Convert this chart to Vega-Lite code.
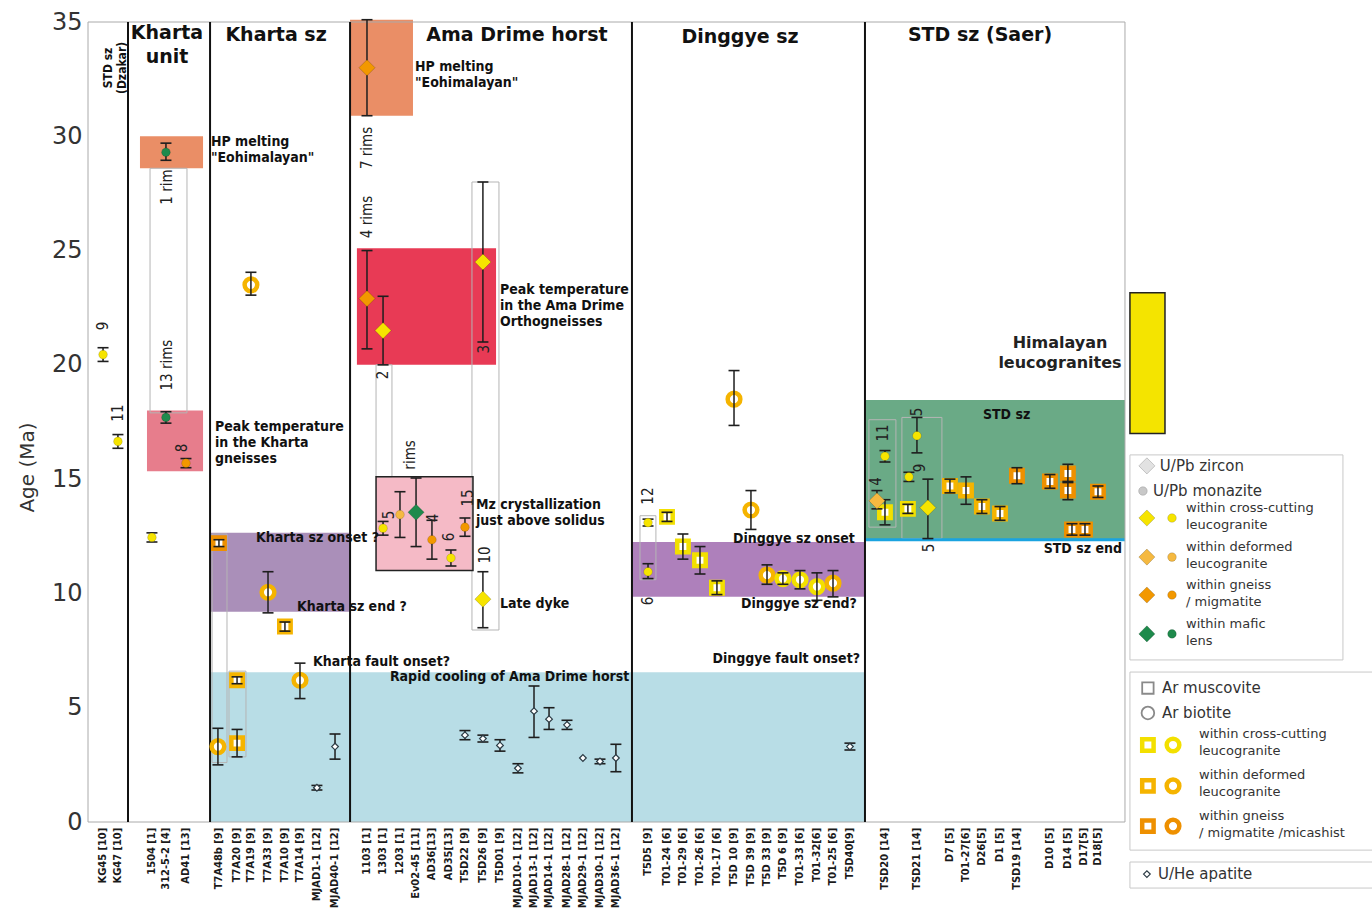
{
"$schema": "https://vega.github.io/schema/vega-lite/v6.json",
"width": 1284, "height": 800,
"autosize": {"type": "none"},
"padding": {"left": 88, "top": 22, "right": 0, "bottom": 89},
"background": "white",
"config": {"view": {"stroke": null},
 "axisX": {"disable": true},
 "axisY": {"ticks": false, "domain": false, "grid": false, "tickCount": 7,
   "labelFont": "DejaVu Sans", "labelFontSize": 24, "labelColor": "#333", "labelPadding": 6,
   "titleFont": "DejaVu Sans", "titleFontSize": 20, "titleFontWeight": "normal", "titleColor": "#333",
   "titleX": -61, "titleY": 445, "titleAlign": "center", "titleBaseline": "middle", "titleAngle": 270}},
"datasets": {
"bands": [
{"band":"hp","x1":3.56,"x2":7.88,"y1":28.6,"y2":30.0},
{"band":"peakK","x1":4.04,"x2":7.88,"y1":15.35,"y2":18.0},
{"band":"hp","x1":17.95,"x2":22.26,"y1":30.9,"y2":35.1},
{"band":"peakA","x1":18.42,"x2":27.95,"y1":20.0,"y2":25.1},
{"band":"mz","x1":19.73,"x2":26.37,"y1":11.0,"y2":15.1},
{"band":"szK","x1":8.36,"x2":17.95,"y1":9.2,"y2":12.65},
{"band":"cool","x1":8.36,"x2":53.22,"y1":0,"y2":6.55},
{"band":"szD","x1":37.26,"x2":53.22,"y1":9.85,"y2":12.25},
{"band":"std","x1":53.22,"x2":71.03,"y1":12.35,"y2":18.46},
{"band":"leuco","x1":71.37,"x2":73.77,"y1":17.0,"y2":23.15}
],
"groups": [
{"x1":4.25,"x2":6.78,"y1":17.9,"y2":28.6},
{"x1":8.5,"x2":9.52,"y1":2.6,"y2":12.6},
{"x1":9.66,"x2":10.82,"y1":2.85,"y2":6.6},
{"x1":19.73,"x2":20.82,"y1":15.1,"y2":20.0},
{"x1":26.3,"x2":28.15,"y1":8.4,"y2":28.0},
{"x1":37.81,"x2":38.9,"y1":10.6,"y2":13.4},
{"x1":53.49,"x2":55.34,"y1":12.9,"y2":17.6},
{"x1":55.75,"x2":58.49,"y1":12.4,"y2":17.7}
],
"frame": [{"x1":0,"x2":71.03,"y1":0,"y2":35}],
"stdline": [{"x1":53.22,"x2":71.03,"y":12.35}],
"divs": [{"pos":2.74},{"pos":8.36},{"pos":17.95},{"pos":37.26},{"pos":53.22}],
"legbox": [
{"x1":71.37,"x2":85.96,"y1":7.09,"y2":16.06},
{"x1":71.37,"x2":88.4,"y1":-1.23,"y2":6.56},
{"x1":71.37,"x2":88.4,"y1":-2.89,"y2":-1.75}
],
"pts": [
{"s":"KG45","pos":1.03,"age":20.45,"lo":20.15,"hi":20.75,"kind":"monazite","host":"cross"},
{"s":"KG47","pos":2.05,"age":16.65,"lo":16.35,"hi":16.95,"kind":"monazite","host":"cross"},
{"s":"1504","pos":4.38,"age":12.45,"lo":12.25,"hi":12.65,"kind":"monazite","host":"cross"},
{"s":"312-5-2","pos":5.34,"age":29.3,"lo":28.95,"hi":29.7,"kind":"monazite","host":"mafic"},
{"s":"312-5-2","pos":5.34,"age":17.7,"lo":17.45,"hi":17.95,"kind":"monazite","host":"mafic"},
{"s":"AD41","pos":6.71,"age":15.7,"lo":15.5,"hi":15.9,"kind":"monazite","host":"gneiss"},
{"s":"T7A48b","pos":8.97,"age":12.2,"lo":12.05,"hi":12.35,"kind":"muscovite","host":"gneiss"},
{"s":"T7A48b","pos":8.9,"age":3.3,"lo":2.5,"hi":4.1,"kind":"biotite","host":"deformed"},
{"s":"T7A20","pos":10.21,"age":6.2,"lo":6.05,"hi":6.35,"kind":"muscovite","host":"deformed"},
{"s":"T7A20","pos":10.21,"age":3.45,"lo":2.85,"hi":4.05,"kind":"muscovite","host":"deformed"},
{"s":"T7A19","pos":11.16,"age":23.5,"lo":23.05,"hi":24.05,"kind":"biotite","host":"deformed"},
{"s":"T7A33","pos":12.33,"age":10.05,"lo":9.15,"hi":10.95,"kind":"biotite","host":"deformed"},
{"s":"T7A10","pos":13.49,"age":8.55,"lo":8.35,"hi":8.75,"kind":"muscovite","host":"deformed"},
{"s":"T7A14","pos":14.52,"age":6.2,"lo":5.4,"hi":6.95,"kind":"biotite","host":"deformed"},
{"s":"MJAD1-1","pos":15.68,"age":1.5,"lo":1.4,"hi":1.6,"kind":"apatite","host":"none"},
{"s":"MJAD40-1","pos":16.92,"age":3.3,"lo":2.75,"hi":3.85,"kind":"apatite","host":"none"},
{"s":"1103","pos":19.11,"age":33.0,"lo":30.9,"hi":35.1,"kind":"zircon","host":"gneiss"},
{"s":"1103","pos":19.11,"age":22.9,"lo":20.7,"hi":25.0,"kind":"zircon","host":"gneiss"},
{"s":"1303","pos":20.21,"age":21.5,"lo":20.0,"hi":23.0,"kind":"zircon","host":"cross"},
{"s":"1303","pos":20.21,"age":12.85,"lo":12.55,"hi":13.15,"kind":"monazite","host":"cross"},
{"s":"1203","pos":21.37,"age":13.45,"lo":12.45,"hi":14.45,"kind":"monazite","host":"deformed"},
{"s":"Ev02-45","pos":22.47,"age":13.55,"lo":12.05,"hi":15.05,"kind":"zircon","host":"mafic"},
{"s":"AD36","pos":23.56,"age":12.35,"lo":11.5,"hi":13.2,"kind":"monazite","host":"gneiss"},
{"s":"AD35","pos":24.86,"age":11.55,"lo":11.2,"hi":11.9,"kind":"monazite","host":"cross"},
{"s":"T5D22","pos":25.82,"age":12.9,"lo":12.5,"hi":13.3,"kind":"monazite","host":"gneiss"},
{"s":"T5D22","pos":25.82,"age":3.8,"lo":3.6,"hi":4.0,"kind":"apatite","host":"none"},
{"s":"T5D26","pos":27.05,"age":24.5,"lo":21.0,"hi":28.0,"kind":"zircon","host":"cross"},
{"s":"T5D26","pos":27.05,"age":9.75,"lo":8.5,"hi":10.95,"kind":"zircon","host":"cross"},
{"s":"T5D26","pos":27.05,"age":3.65,"lo":3.5,"hi":3.8,"kind":"apatite","host":"none"},
{"s":"T5D01","pos":28.22,"age":3.35,"lo":3.1,"hi":3.6,"kind":"apatite","host":"none"},
{"s":"MJAD10-1","pos":29.45,"age":2.35,"lo":2.15,"hi":2.55,"kind":"apatite","host":"none"},
{"s":"MJAD13-1","pos":30.55,"age":4.85,"lo":3.7,"hi":5.95,"kind":"apatite","host":"none"},
{"s":"MJAD14-1","pos":31.58,"age":4.5,"lo":4.05,"hi":5.0,"kind":"apatite","host":"none"},
{"s":"MJAD28-1","pos":32.81,"age":4.25,"lo":4.05,"hi":4.45,"kind":"apatite","host":"none"},
{"s":"MJAD29-1","pos":33.9,"age":2.8,"lo":null,"hi":null,"kind":"apatite","host":"none"},
{"s":"MJAD30-1","pos":35.07,"age":2.65,"lo":2.55,"hi":2.75,"kind":"apatite","host":"none"},
{"s":"MJAD36-1","pos":36.16,"age":2.8,"lo":2.2,"hi":3.4,"kind":"apatite","host":"none"},
{"s":"T5D5","pos":38.36,"age":13.1,"lo":12.95,"hi":13.25,"kind":"monazite","host":"cross"},
{"s":"T5D5","pos":38.36,"age":10.95,"lo":10.65,"hi":11.3,"kind":"monazite","host":"cross"},
{"s":"T01-24","pos":39.66,"age":13.35,"lo":13.15,"hi":13.55,"kind":"muscovite","host":"cross"},
{"s":"T01-29","pos":40.75,"age":12.05,"lo":11.5,"hi":12.6,"kind":"muscovite","host":"cross"},
{"s":"T01-26","pos":41.92,"age":11.45,"lo":10.85,"hi":12.05,"kind":"muscovite","host":"cross"},
{"s":"T01-17","pos":43.08,"age":10.25,"lo":9.95,"hi":10.55,"kind":"muscovite","host":"cross"},
{"s":"T5D10","pos":44.25,"age":18.5,"lo":17.35,"hi":19.75,"kind":"biotite","host":"deformed"},
{"s":"T5D39","pos":45.41,"age":13.65,"lo":12.8,"hi":14.5,"kind":"biotite","host":"deformed"},
{"s":"T5D33","pos":46.51,"age":10.8,"lo":10.4,"hi":11.25,"kind":"biotite","host":"deformed"},
{"s":"T5D6","pos":47.6,"age":10.65,"lo":10.4,"hi":10.9,"kind":"biotite","host":"cross"},
{"s":"T01-33","pos":48.77,"age":10.6,"lo":10.2,"hi":11.0,"kind":"biotite","host":"cross"},
{"s":"T01-32","pos":49.93,"age":10.3,"lo":9.7,"hi":10.9,"kind":"biotite","host":"cross"},
{"s":"T01-25","pos":51.03,"age":10.45,"lo":9.85,"hi":11.0,"kind":"biotite","host":"deformed"},
{"s":"T5D40","pos":52.19,"age":3.3,"lo":3.15,"hi":3.45,"kind":"apatite","host":"none"},
{"s":"TSD20","pos":54.59,"age":16.0,"lo":15.75,"hi":16.25,"kind":"monazite","host":"cross"},
{"s":"TSD20","pos":54.04,"age":14.05,"lo":13.7,"hi":14.5,"kind":"zircon","host":"deformed"},
{"s":"TSD20","pos":54.59,"age":13.55,"lo":13.0,"hi":14.1,"kind":"muscovite","host":"cross"},
{"s":"TSD21","pos":56.78,"age":16.9,"lo":16.15,"hi":17.7,"kind":"monazite","host":"cross"},
{"s":"TSD21","pos":56.23,"age":15.1,"lo":14.9,"hi":15.3,"kind":"monazite","host":"cross"},
{"s":"TSD21","pos":56.16,"age":13.7,"lo":13.5,"hi":13.9,"kind":"muscovite","host":"cross"},
{"s":"TSD21","pos":57.53,"age":13.75,"lo":12.4,"hi":15.0,"kind":"zircon","host":"cross"},
{"s":"D7","pos":59.04,"age":14.7,"lo":14.4,"hi":15.0,"kind":"muscovite","host":"deformed"},
{"s":"T01-27","pos":60.14,"age":14.5,"lo":13.9,"hi":15.1,"kind":"muscovite","host":"deformed"},
{"s":"D26","pos":61.23,"age":13.8,"lo":13.5,"hi":14.1,"kind":"muscovite","host":"deformed"},
{"s":"D1","pos":62.47,"age":13.5,"lo":13.2,"hi":13.8,"kind":"muscovite","host":"deformed"},
{"s":"TSD19","pos":63.63,"age":15.15,"lo":14.8,"hi":15.5,"kind":"muscovite","host":"gneiss"},
{"s":"D10","pos":65.89,"age":14.9,"lo":14.6,"hi":15.2,"kind":"muscovite","host":"gneiss"},
{"s":"D14","pos":67.12,"age":15.25,"lo":14.85,"hi":15.65,"kind":"muscovite","host":"gneiss"},
{"s":"D14","pos":67.12,"age":14.5,"lo":14.1,"hi":14.9,"kind":"muscovite","host":"gneiss"},
{"s":"D14","pos":67.4,"age":12.8,"lo":12.55,"hi":13.05,"kind":"muscovite","host":"gneiss"},
{"s":"D17","pos":68.29,"age":12.8,"lo":12.55,"hi":13.05,"kind":"muscovite","host":"gneiss"},
{"s":"D18","pos":69.18,"age":14.45,"lo":14.2,"hi":14.7,"kind":"muscovite","host":"gneiss"},
{"s":"legend","pos":72.53,"age":15.58,"lo":null,"hi":null,"kind":"zircon","host":"none"},
{"s":"legend","pos":72.26,"age":14.48,"lo":null,"hi":null,"kind":"monazite","host":"none"},
{"s":"legend","pos":72.53,"age":13.3,"lo":null,"hi":null,"kind":"zircon","host":"cross"},
{"s":"legend","pos":74.25,"age":13.3,"lo":null,"hi":null,"kind":"monazite","host":"cross"},
{"s":"legend","pos":72.53,"age":11.59,"lo":null,"hi":null,"kind":"zircon","host":"deformed"},
{"s":"legend","pos":74.25,"age":11.59,"lo":null,"hi":null,"kind":"monazite","host":"deformed"},
{"s":"legend","pos":72.53,"age":9.93,"lo":null,"hi":null,"kind":"zircon","host":"gneiss"},
{"s":"legend","pos":74.25,"age":9.93,"lo":null,"hi":null,"kind":"monazite","host":"gneiss"},
{"s":"legend","pos":72.53,"age":8.23,"lo":null,"hi":null,"kind":"zircon","host":"mafic"},
{"s":"legend","pos":74.25,"age":8.23,"lo":null,"hi":null,"kind":"monazite","host":"mafic"},
{"s":"legend","pos":72.6,"age":5.86,"lo":null,"hi":null,"kind":"muscovite","host":"none"},
{"s":"legend","pos":72.6,"age":4.77,"lo":null,"hi":null,"kind":"biotite","host":"none"},
{"s":"legend","pos":72.6,"age":3.37,"lo":null,"hi":null,"kind":"muscovite","host":"cross"},
{"s":"legend","pos":74.32,"age":3.37,"lo":null,"hi":null,"kind":"biotite","host":"cross"},
{"s":"legend","pos":72.6,"age":1.58,"lo":null,"hi":null,"kind":"muscovite","host":"deformed"},
{"s":"legend","pos":74.32,"age":1.58,"lo":null,"hi":null,"kind":"biotite","host":"deformed"},
{"s":"legend","pos":72.6,"age":-0.18,"lo":null,"hi":null,"kind":"muscovite","host":"gneiss"},
{"s":"legend","pos":74.32,"age":-0.18,"lo":null,"hi":null,"kind":"biotite","host":"gneiss"},
{"s":"legend","pos":72.53,"age":-2.28,"lo":null,"hi":null,"kind":"apatite","host":"none"}
],
"samples": [
{"label":"KG45 [10]","pos":1.03},{"label":"KG47 [10]","pos":2.05},
{"label":"1504 [1]","pos":4.38},{"label":"312-5-2 [4]","pos":5.34},{"label":"AD41 [13]","pos":6.71},
{"label":"T7A48b [9]","pos":8.97},{"label":"T7A20 [9]","pos":10.21},{"label":"T7A19 [9]","pos":11.16},{"label":"T7A33 [9]","pos":12.33},{"label":"T7A10 [9]","pos":13.49},{"label":"T7A14 [9]","pos":14.52},{"label":"MJAD1-1 [12]","pos":15.68},{"label":"MJAD40-1 [12]","pos":16.92},
{"label":"1103 [1]","pos":19.11},{"label":"1303 [1]","pos":20.21},{"label":"1203 [1]","pos":21.37},{"label":"Ev02-45 [11]","pos":22.47},{"label":"AD36[13]","pos":23.56},{"label":"AD35[13]","pos":24.75},{"label":"T5D22 [9]","pos":25.82},{"label":"T5D26 [9]","pos":27.05},{"label":"T5D01 [9]","pos":28.22},{"label":"MJAD10-1 [12]","pos":29.45},{"label":"MJAD13-1 [12]","pos":30.55},{"label":"MJAD14-1 [12]","pos":31.58},{"label":"MJAD28-1 [12]","pos":32.81},{"label":"MJAD29-1 [12]","pos":33.9},{"label":"MJAD30-1 [12]","pos":35.07},{"label":"MJAD36-1 [12]","pos":36.16},
{"label":"T5D5 [9]","pos":38.36},{"label":"T01-24 [6]","pos":39.66},{"label":"T01-29 [6]","pos":40.75},{"label":"T01-26 [6]","pos":41.92},{"label":"T01-17 [6]","pos":43.08},{"label":"T5D 10 [9]","pos":44.25},{"label":"T5D 39 [9]","pos":45.41},{"label":"T5D 33 [9]","pos":46.51},{"label":"T5D 6 [9]","pos":47.6},{"label":"T01-33 [6]","pos":48.77},{"label":"T01-32[6]","pos":49.93},{"label":"T01-25 [6]","pos":51.03},{"label":"T5D40[9]","pos":52.19},
{"label":"TSD20 [14]","pos":54.59},{"label":"TSD21 [14]","pos":56.78},{"label":"D7 [5]","pos":59.04},{"label":"T01-27[6]","pos":60.14},{"label":"D26[5]","pos":61.23},{"label":"D1 [5]","pos":62.47},{"label":"TSD19 [14]","pos":63.63},{"label":"D10 [5]","pos":65.89},{"label":"D14 [5]","pos":67.12},{"label":"D17[5]","pos":68.22},{"label":"D18[5]","pos":69.18}
],
"notesL": [
{"t":"HP melting\n\"Eohimalayan\"","pos":8.42,"age":30.06},
{"t":"Peak temperature\nin the Kharta\ngneisses","pos":8.7,"age":17.59},
{"t":"Kharta sz onset ?","pos":11.51,"age":12.73},
{"t":"Kharta sz end ?","pos":14.32,"age":9.71},
{"t":"Kharta fault onset?","pos":15.41,"age":7.31},
{"t":"Rapid cooling of Ama Drime horst","pos":20.68,"age":6.65},
{"t":"HP melting\n\"Eohimalayan\"","pos":22.4,"age":33.34},
{"t":"Peak temperature\nin the Ama Drime\nOrthogneisses","pos":28.22,"age":23.58},
{"t":"Mz crystallization\njust above solidus","pos":26.58,"age":14.18},
{"t":"Late dyke","pos":28.22,"age":9.84},
{"t":"STD sz","pos":61.3,"age":18.11}
],
"notesR": [
{"t":"Dinggye sz onset","pos":52.53,"age":12.69},
{"t":"Dinggye sz end?","pos":52.67,"age":9.84},
{"t":"Dinggye fault onset?","pos":52.88,"age":7.44},
{"t":"STD sz end","pos":70.82,"age":12.25}
],
"heads": [
{"t":"Kharta\nunit","pos":5.41,"age":34.91},
{"t":"Kharta sz","pos":12.88,"age":34.83},
{"t":"Ama Drime horst","pos":29.38,"age":34.83},
{"t":"Dinggye sz","pos":44.66,"age":34.74},
{"t":"STD sz (Saer)","pos":61.1,"age":34.83}
],
"heads2": [{"t":"Himalayan\nleucogranites","pos":66.58,"age":21.3}],
"counts": [
{"t":"9","pos":1.03,"age":21.7},{"t":"11","pos":2.05,"age":17.89},
{"t":"1 rim","pos":5.41,"age":27.78},{"t":"13 rims","pos":5.41,"age":19.99},{"t":"8","pos":6.44,"age":16.36},
{"t":"7 rims","pos":19.11,"age":29.49},{"t":"4 rims","pos":19.11,"age":26.47},{"t":"2","pos":20.21,"age":19.56},{"t":"3","pos":27.12,"age":20.69},{"t":"rims","pos":22.05,"age":16.06},
{"t":"5","pos":20.62,"age":13.43},{"t":"4","pos":23.63,"age":13.3},{"t":"6","pos":24.73,"age":12.47},{"t":"15","pos":26.03,"age":14.18},{"t":"10","pos":27.19,"age":11.68},
{"t":"12","pos":38.36,"age":14.26},{"t":"6","pos":38.36,"age":9.67},
{"t":"11","pos":54.45,"age":17.02},{"t":"4","pos":54.0,"age":14.9},{"t":"5","pos":56.78,"age":17.94},{"t":"9","pos":56.99,"age":15.49},{"t":"5","pos":57.6,"age":11.99}
],
"vlabels": [{"t":"STD sz\n(Dzakar)","pos":1.37,"age":32.99}],
"legL": [
{"t":"U/Pb zircon","pos":73.42,"age":15.58},{"t":"U/Pb monazite","pos":72.95,"age":14.48},
{"t":"Ar muscovite","pos":73.56,"age":5.86},{"t":"Ar biotite","pos":73.56,"age":4.77},
{"t":"U/He apatite","pos":73.29,"age":-2.28}
],
"legS": [
{"t":"within cross-cutting\nleucogranite","pos":75.21,"age":14.0},
{"t":"within deformed\nleucogranite","pos":75.21,"age":12.29},
{"t":"within gneiss\n/ migmatite","pos":75.21,"age":10.63},
{"t":"within mafic\nlens","pos":75.21,"age":8.93},
{"t":"within cross-cutting\nleucogranite","pos":76.1,"age":4.11},
{"t":"within deformed\nleucogranite","pos":76.1,"age":2.32},
{"t":"within gneiss\n/ migmatite /micashist","pos":76.1,"age":0.53}
]
},
"layer": [
{"data":{"name":"bands"},"mark":{"type":"rect"},
 "encoding":{
  "x":{"field":"x1","type":"quantitative","scale":{"domain":[0,87.95],"nice":false,"zero":false}},
  "x2":{"field":"x2"},
  "y":{"field":"y1","type":"quantitative","title":"Age (Ma)","scale":{"domain":[0,35],"nice":false,"zero":false}},
  "y2":{"field":"y2"},
  "fill":{"field":"band","type":"nominal","legend":null,
          "scale":{"domain":["hp","peakK","peakA","mz","szK","cool","szD","std","leuco"],
                   "range":["#ea8e66","#e77d8c","#e83a55","#f5bac6","#aa8fb9","#b8dde6","#ae80bb","#6aaa86","#f4e400"]}}}},
{"data":{"name":"groups"},"mark":{"type":"rect","fill":null,"stroke":"#b5b5b5","strokeWidth":1},
 "encoding":{"x":{"field":"x1","type":"quantitative"},"x2":{"field":"x2"},"y":{"field":"y1","type":"quantitative","title":"Age (Ma)"},"y2":{"field":"y2"}}},
{"data":{"name":"bands"},"transform":[{"filter":"datum.band==='mz' || datum.band==='leuco'"}],
 "mark":{"type":"rect","fill":null,"stroke":"#222","strokeWidth":1.5},
 "encoding":{"x":{"field":"x1","type":"quantitative"},"x2":{"field":"x2"},"y":{"field":"y1","type":"quantitative","title":"Age (Ma)"},"y2":{"field":"y2"}}},
{"data":{"name":"stdline"},"mark":{"type":"rule","stroke":"#1aa3e0","strokeWidth":3},
 "encoding":{"x":{"field":"x1","type":"quantitative"},"x2":{"field":"x2"},"y":{"field":"y","type":"quantitative","title":"Age (Ma)"}}},
{"data":{"name":"frame"},"mark":{"type":"rect","fill":null,"stroke":"#aaaaaa","strokeWidth":1},
 "encoding":{"x":{"field":"x1","type":"quantitative"},"x2":{"field":"x2"},"y":{"field":"y1","type":"quantitative","title":"Age (Ma)"},"y2":{"field":"y2"}}},
{"data":{"name":"divs"},"mark":{"type":"rule","stroke":"#111","strokeWidth":2},
 "encoding":{"x":{"field":"pos","type":"quantitative"}}},
{"data":{"name":"legbox"},"mark":{"type":"rect","fill":"white","stroke":"#c8c8c8","strokeWidth":1},
 "encoding":{"x":{"field":"x1","type":"quantitative"},"x2":{"field":"x2"},"y":{"field":"y1","type":"quantitative","title":"Age (Ma)"},"y2":{"field":"y2"}}},
{"data":{"name":"pts"},"transform":[{"filter":"datum.kind==='muscovite'"}],
 "mark":{"type":"point","shape":"square","filled":false,"fill":"white","fillOpacity":1,"size":130,"opacity":1},
 "encoding":{"x":{"field":"pos","type":"quantitative"},"y":{"field":"age","type":"quantitative","title":"Age (Ma)"},
  "stroke":{"field":"host","type":"nominal","legend":null,"scale":{"domain":["cross","deformed","gneiss","mafic","none"],"range":["#f3e000","#f5b400","#ee9000","#1e8a4c","#8a8a8a"]}},
  "strokeWidth":{"condition":{"test":"datum.host==='none'","value":1.8},"value":4.5}}},
{"data":{"name":"pts"},"transform":[{"filter":"datum.kind==='biotite'"}],
 "mark":{"type":"point","shape":"circle","filled":false,"fill":"white","fillOpacity":1,"size":160,"opacity":1},
 "encoding":{"x":{"field":"pos","type":"quantitative"},"y":{"field":"age","type":"quantitative","title":"Age (Ma)"},
  "stroke":{"field":"host","type":"nominal","legend":null,"scale":{"domain":["cross","deformed","gneiss","mafic","none"],"range":["#f3e000","#f5b400","#ee9000","#1e8a4c","#8a8a8a"]}},
  "strokeWidth":{"condition":{"test":"datum.host==='none'","value":1.8},"value":4.5}}},
{"data":{"name":"pts"},"transform":[{"filter":"isValid(datum.lo)"}],
 "mark":{"type":"rule","stroke":"#1e1e1e","strokeWidth":1.5},
 "encoding":{"x":{"field":"pos","type":"quantitative"},"y":{"field":"lo","type":"quantitative","title":"Age (Ma)"},"y2":{"field":"hi"}}},
{"data":{"name":"pts"},"transform":[{"filter":"isValid(datum.lo)"}],
 "mark":{"type":"tick","orient":"horizontal","color":"#1e1e1e","size":11,"thickness":1.6,"opacity":1},
 "encoding":{"x":{"field":"pos","type":"quantitative"},"y":{"field":"lo","type":"quantitative","title":"Age (Ma)"}}},
{"data":{"name":"pts"},"transform":[{"filter":"isValid(datum.hi)"}],
 "mark":{"type":"tick","orient":"horizontal","color":"#1e1e1e","size":11,"thickness":1.6,"opacity":1},
 "encoding":{"x":{"field":"pos","type":"quantitative"},"y":{"field":"hi","type":"quantitative","title":"Age (Ma)"}}},
{"data":{"name":"pts"},"transform":[{"filter":"datum.kind==='zircon'"}],
 "mark":{"type":"point","shape":"diamond","filled":true,"size":260,"opacity":1,"stroke":"#000","strokeOpacity":0.18,"strokeWidth":1},
 "encoding":{"x":{"field":"pos","type":"quantitative"},"y":{"field":"age","type":"quantitative","title":"Age (Ma)"},
  "fill":{"field":"host","type":"nominal","legend":null,"scale":{"domain":["cross","deformed","gneiss","mafic","none"],"range":["#f6e400","#f5b940","#f29800","#1e8a4c","#e2e2e2"]}}}},
{"data":{"name":"pts"},"transform":[{"filter":"datum.kind==='monazite'"}],
 "mark":{"type":"point","shape":"circle","filled":true,"size":75,"opacity":1,"stroke":"#000","strokeOpacity":0.15,"strokeWidth":1},
 "encoding":{"x":{"field":"pos","type":"quantitative"},"y":{"field":"age","type":"quantitative","title":"Age (Ma)"},
  "fill":{"field":"host","type":"nominal","legend":null,"scale":{"domain":["cross","deformed","gneiss","mafic","none"],"range":["#f6e400","#f5b940","#f29800","#1e8a4c","#c8c8c8"]}}}},
{"data":{"name":"pts"},"transform":[{"filter":"datum.kind==='apatite'"}],
 "mark":{"type":"point","shape":"diamond","filled":false,"fill":"white","fillOpacity":1,"size":45,"stroke":"#2b3a44","strokeWidth":1.2,"opacity":1},
 "encoding":{"x":{"field":"pos","type":"quantitative"},"y":{"field":"age","type":"quantitative","title":"Age (Ma)"}}},
{"data":{"name":"notesL"},
 "mark":{"type":"text","align":"left","baseline":"top","font":"DejaVu Sans Condensed, sans-serif","fontSize":14,"fontWeight":"bold","lineBreak":"\n","lineHeight":16,"color":"#111"},
 "encoding":{"x":{"field":"pos","type":"quantitative"},"y":{"field":"age","type":"quantitative","title":"Age (Ma)"},"text":{"field":"t"}}},
{"data":{"name":"notesR"},
 "mark":{"type":"text","align":"right","baseline":"top","font":"DejaVu Sans Condensed, sans-serif","fontSize":14,"fontWeight":"bold","lineBreak":"\n","lineHeight":16,"color":"#111"},
 "encoding":{"x":{"field":"pos","type":"quantitative"},"y":{"field":"age","type":"quantitative","title":"Age (Ma)"},"text":{"field":"t"}}},
{"data":{"name":"heads"},
 "mark":{"type":"text","align":"center","baseline":"top","font":"DejaVu Sans","fontSize":19,"fontWeight":"bold","lineBreak":"\n","lineHeight":24,"color":"#111"},
 "encoding":{"x":{"field":"pos","type":"quantitative"},"y":{"field":"age","type":"quantitative","title":"Age (Ma)"},"text":{"field":"t"}}},
{"data":{"name":"heads2"},
 "mark":{"type":"text","align":"center","baseline":"top","font":"DejaVu Sans","fontSize":16,"fontWeight":"bold","lineBreak":"\n","lineHeight":20,"color":"#222"},
 "encoding":{"x":{"field":"pos","type":"quantitative"},"y":{"field":"age","type":"quantitative","title":"Age (Ma)"},"text":{"field":"t"}}},
{"data":{"name":"counts"},
 "mark":{"type":"text","align":"center","baseline":"middle","angle":270,"font":"DejaVu Sans Condensed, sans-serif","fontSize":15,"color":"#222"},
 "encoding":{"x":{"field":"pos","type":"quantitative"},"y":{"field":"age","type":"quantitative","title":"Age (Ma)"},"text":{"field":"t"}}},
{"data":{"name":"vlabels"},
 "mark":{"type":"text","align":"center","baseline":"middle","angle":270,"font":"DejaVu Sans Condensed, sans-serif","fontSize":12,"fontWeight":"bold","lineBreak":"\n","lineHeight":14,"color":"#111"},
 "encoding":{"x":{"field":"pos","type":"quantitative"},"y":{"field":"age","type":"quantitative","title":"Age (Ma)"},"text":{"field":"t"}}},
{"data":{"name":"samples"},
 "mark":{"type":"text","align":"right","baseline":"middle","angle":270,"font":"DejaVu Sans Condensed, sans-serif","fontSize":11,"fontWeight":"bold","color":"#1a1a1a"},
 "encoding":{"x":{"field":"pos","type":"quantitative"},"y":{"datum":-0.25,"type":"quantitative","title":"Age (Ma)"},"text":{"field":"label"}}},
{"data":{"name":"legL"},
 "mark":{"type":"text","align":"left","baseline":"middle","font":"DejaVu Sans","fontSize":15,"color":"#333"},
 "encoding":{"x":{"field":"pos","type":"quantitative"},"y":{"field":"age","type":"quantitative","title":"Age (Ma)"},"text":{"field":"t"}}},
{"data":{"name":"legS"},
 "mark":{"type":"text","align":"left","baseline":"top","font":"DejaVu Sans","fontSize":13,"lineBreak":"\n","lineHeight":17,"color":"#333"},
 "encoding":{"x":{"field":"pos","type":"quantitative"},"y":{"field":"age","type":"quantitative","title":"Age (Ma)"},"text":{"field":"t"}}}
],
"resolve":{"scale":{"fill":"independent","stroke":"independent"}}
}
